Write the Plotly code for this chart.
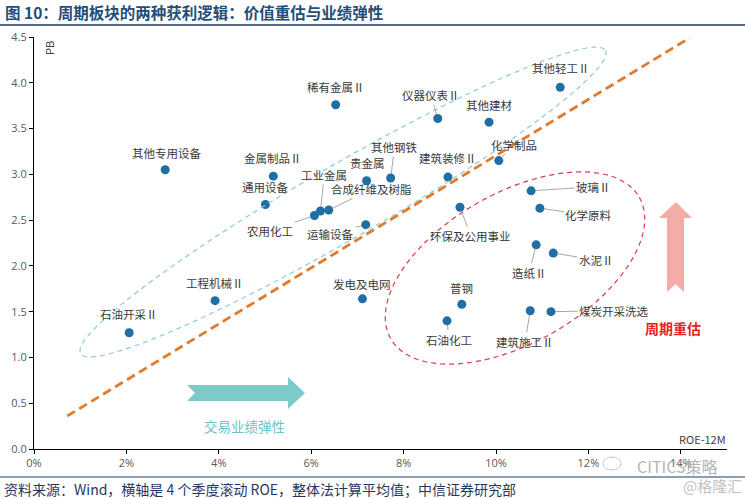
import numpy as np
import plotly.graph_objects as go

# ---------------- data ----------------
names = ["石油开采Ⅱ", "工程机械Ⅱ", "其他专用设备", "金属制品Ⅱ", "通用设备", "农用化工",
         "工业金属", "合成纤维及树脂", "贵金属", "其他钢铁", "运输设备", "稀有金属Ⅱ",
         "仪器仪表Ⅱ", "其他建材", "建筑装修Ⅱ", "环保及公用事业", "化学制品", "其他轻工Ⅱ",
         "玻璃Ⅱ", "化学原料", "造纸Ⅱ", "水泥Ⅱ", "发电及电网", "普钢", "石油化工",
         "建筑施工Ⅱ", "煤炭开采洗选"]
roe = [2.06, 3.92, 2.84, 5.18, 5.01, 6.07, 6.20, 6.38, 7.20, 7.72, 7.18, 6.53,
       8.74, 9.85, 8.96, 9.22, 10.06, 11.39, 10.76, 10.95, 10.87, 11.24, 7.11, 9.26,
       8.94, 10.74, 11.19]
pb = [1.27, 1.62, 3.05, 2.98, 2.67, 2.55, 2.60, 2.61, 2.93, 2.96, 2.45, 3.76,
      3.61, 3.57, 2.97, 2.64, 3.15, 3.95, 2.82, 2.63, 2.23, 2.14, 1.64, 1.58,
      1.40, 1.51, 1.50]
trend_x = [0.72, 14.19]
trend_y = [0.36, 4.49]
x_ticks = [0, 2, 4, 6, 8, 10, 12, 14]
y_ticks = [0.0, 0.5, 1.0, 1.5, 2.0, 2.5, 3.0, 3.5, 4.0, 4.5]

# ---------------- label placement (pixel offsets, leader flag) ----------------
label_pos = {
    "其他专用设备": (1, -17, False), "石油开采Ⅱ": (0, -19, False), "工程机械Ⅱ": (0, -18, False),
    "稀有金属Ⅱ": (0, -18, False), "仪器仪表Ⅱ": (-7, -23, True), "其他建材": (0, -17, False),
    "金属制品Ⅱ": (0, -18, False), "通用设备": (0, -18, False), "工业金属": (4, -36, True),
    "贵金属": (1, -18, False), "其他钢铁": (4, -31, True), "合成纤维及树脂": (43, -21, True),
    "农用化工": (-44, 15, True), "运输设备": (-35, 9, True), "建筑装修Ⅱ": (0, -19, False),
    "环保及公用事业": (11, 29, True), "化学制品": (15, -16, True), "其他轻工Ⅱ": (1, -19, False),
    "玻璃Ⅱ": (62, -4, True), "化学原料": (49, 7, True), "造纸Ⅱ": (-7, 28, True),
    "水泥Ⅱ": (43, 7, True), "普钢": (0, -16, False), "石油化工": (2, 19, True),
    "建筑施工Ⅱ": (-5, 31, True), "煤炭开采洗选": (63, -1, True), "发电及电网": (0, -15, False),
}

W, H = 745, 499
L, R, T, B = 34, 727, 37, 449
PW, PH = R - L, B - T


def P(px, py):
    return (px - L) / PW, (B - py) / PH


def path_px(pts):
    s = ""
    for i, (px, py) in enumerate(pts):
        xp, yp = P(px, py)
        s += ("M" if i == 0 else "L") + f"{xp:.5f},{yp:.5f} "
    return s + "Z"


def ellipse_px(cx, cy, a, b, deg, n=160):
    th = np.radians(deg)
    t = np.linspace(0, 2 * np.pi, n, endpoint=False)
    px = cx + a * np.cos(t) * np.cos(th) + b * np.sin(t) * np.sin(th)
    py = cy - a * np.cos(t) * np.sin(th) + b * np.sin(t) * np.cos(th)
    return list(zip(px, py))


FONT = "Noto Sans CJK SC"

fig = go.Figure()

# trend line
fig.add_trace(go.Scatter(x=trend_x, y=trend_y, mode="lines",
                         line=dict(color="#de7b2e", width=2.8, dash="9px,5px"),
                         hoverinfo="skip", showlegend=False))

# points
fig.add_trace(go.Scatter(x=roe, y=pb, mode="markers", text=names,
                         marker=dict(color="#1f6fa5", size=9),
                         showlegend=False))

shapes = []
# ellipses
shapes.append(dict(type="path", xref="paper", yref="paper",
                   path=path_px(ellipse_px(343, 202, 303, 37, 30)),
                   line=dict(color="#8ccbd4", width=1.2, dash="5px,4px")))
shapes.append(dict(type="path", xref="paper", yref="paper",
                   path=path_px(ellipse_px(515, 268, 143, 75, 29.6)),
                   line=dict(color="#dc3a45", width=1.2, dash="5px,4px")))
# teal arrow
shapes.append(dict(type="path", xref="paper", yref="paper",
                   path=path_px([(187, 385), (288, 385), (288, 377), (305, 393), (288, 409),
                                 (288, 401), (187, 401), (195, 393)]),
                   fillcolor="#7ccaca", line=dict(width=0)))
# pink arrow
shapes.append(dict(type="path", xref="paper", yref="paper",
                   path=path_px([(676, 202), (692, 218), (684, 218), (684, 292), (675.5, 284),
                                 (667, 292), (667, 218), (659, 218)]),
                   fillcolor="#f4aca8", line=dict(width=0)))
# header / footer rules
x0, _ = P(0, 0)
x1, _ = P(W, 0)
_, yt = P(0, 25)
_, yb = P(0, 477)
shapes.append(dict(type="line", xref="paper", yref="paper", x0=x0, x1=x1, y0=yt, y1=yt,
                   line=dict(color="#1f3a5f", width=1.5)))
shapes.append(dict(type="line", xref="paper", yref="paper", x0=x0, x1=x1, y0=yb, y1=yb,
                   line=dict(color="#1f3a5f", width=1.2)))
# watermark icon
cx0, cy0 = P(603, 470)
cx1, cy1 = P(621, 457)
shapes.append(dict(type="circle", xref="paper", yref="paper", x0=cx0, x1=cx1, y0=cy0, y1=cy1,
                   line=dict(color="#c8c8c8", width=1)))

annotations = []
for n, xv, yv in zip(names, roe, pb):
    dx, dy, lead = label_pos[n]
    if lead:
        annotations.append(dict(x=xv, y=yv, xref="x", yref="y", text=n, showarrow=True,
                                ax=dx, ay=dy, arrowhead=0, arrowwidth=0.8,
                                arrowcolor="#8f8f8f", standoff=4,
                                font=dict(family=FONT, size=11.5, color="#3a3a3a")))
    else:
        annotations.append(dict(x=xv, y=yv, xref="x", yref="y", text=n, showarrow=False,
                                xshift=dx, yshift=-dy,
                                font=dict(family=FONT, size=11.5, color="#3a3a3a")))


def txt(px, py, s, size, color, xanchor="center", bold=False, angle=0):
    xp, yp = P(px, py)
    annotations.append(dict(x=xp, y=yp, xref="paper", yref="paper", text=f"<b>{s}</b>" if bold else s,
                            showarrow=False, xanchor=xanchor, yanchor="middle", textangle=angle,
                            font=dict(family=FONT, size=size, color=color)))


txt(3, 12, "图 10：周期板块的两种获利逻辑：价值重估与业绩弹性", 15.5, "#1f4e79", "left", bold=True)
txt(2, 489, "资料来源：Wind，横轴是 4 个季度滚动 ROE，整体法计算平均值；中信证券研究部", 14, "#1f3864", "left")
txt(49, 48, "PB", 11, "#404040", angle=-90)
txt(728, 439, "ROE-12M", 11, "#404040", "right")
txt(245, 426, "交易业绩弹性", 13.5, "#6cc4c6")
txt(673, 328, "周期重估", 14, "#e8231f", bold=True)
txt(677, 466, "CITICS策略", 16, "#b5b5b5")
txt(712, 485, "@格隆汇", 15, "#c2c2c2")

fig.update_layout(
    width=W, height=H,
    margin=dict(l=L, r=W - R, t=T, b=H - B),
    paper_bgcolor="white", plot_bgcolor="white",
    shapes=shapes, annotations=annotations,
    font=dict(family=FONT),
    xaxis=dict(range=[0, 15], tickvals=x_ticks, ticktext=[f"{v}%" for v in x_ticks],
               showgrid=False, zeroline=False, showline=True, linecolor="#000000", linewidth=1,
               ticks="outside", ticklen=4, tickcolor="#000000",
               tickfont=dict(family="Open Sans", size=11, color="#595959")),
    yaxis=dict(range=[0, 4.5], tickvals=y_ticks, ticktext=[f"{v:.1f}" for v in y_ticks],
               showgrid=False, zeroline=False, showline=True, linecolor="#000000", linewidth=1,
               ticks="outside", ticklen=4, tickcolor="#000000",
               tickfont=dict(family="Open Sans", size=11, color="#595959")),
)

fig.write_html("out.html")
